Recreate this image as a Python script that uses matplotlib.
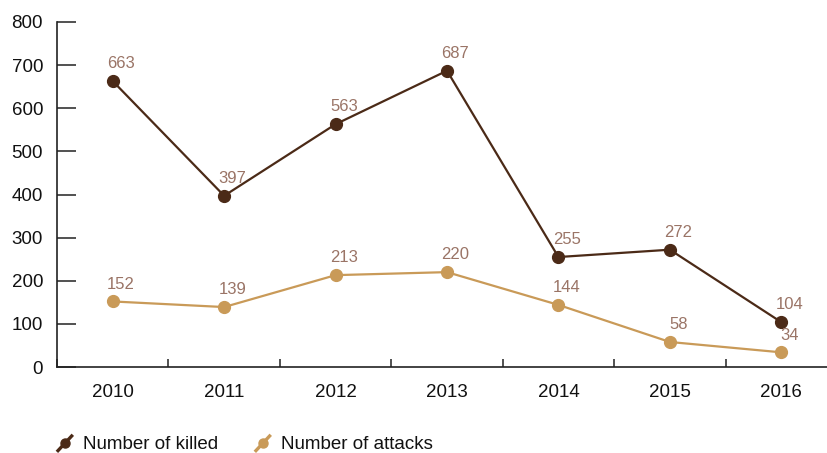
import matplotlib
matplotlib.use("Agg")
import matplotlib.pyplot as plt
from matplotlib.legend_handler import HandlerLine2D
from matplotlib.lines import Line2D
import numpy as np

plt.rcParams['font.family'] = ['Liberation Sans', 'DejaVu Sans']

years = ["2010", "2011", "2012", "2013", "2014", "2015", "2016"]
killed = [663, 397, 563, 687, 255, 272, 104]
attacks = [152, 139, 213, 220, 144, 58, 34]

c_killed = "#4b2a17"
c_attacks = "#c99a58"
c_label = "#9a7466"
c_axis = "#222222"

fig = plt.figure(figsize=(8.28, 4.53), dpi=100)
ax = fig.add_axes([57/828, 1-367/453, (837-57)/828, (367-22)/453])

x = np.arange(len(years))
l1, = ax.plot(x, killed, color=c_killed, lw=1.6, marker='o', ms=8.5, label="Number of killed", clip_on=False, zorder=3)
l2, = ax.plot(x, attacks, color=c_attacks, lw=1.6, marker='o', ms=8.5, label="Number of attacks", clip_on=False, zorder=3)

for xi, v in zip(x, killed):
    ax.annotate(str(v), (xi, v), xytext=(6, 7), textcoords='offset points',
                ha='center', va='bottom', color=c_label, fontsize=12)
for xi, v in zip(x, attacks):
    ax.annotate(str(v), (xi, v), xytext=(6, 7), textcoords='offset points',
                ha='center', va='bottom', color=c_label, fontsize=12)

ax.set_xlim(-0.5, len(years) - 0.5)
ax.set_ylim(0, 800)
ax.set_yticks(range(0, 801, 100))
ax.set_xticks(x)
ax.set_xticklabels(years)
ax.set_xticks(np.arange(-0.5, len(years), 1.0), minor=True)

for s in ['top', 'right']:
    ax.spines[s].set_visible(False)
for s in ['left', 'bottom']:
    ax.spines[s].set_color(c_axis)
    ax.spines[s].set_linewidth(1.2)

ax.tick_params(axis='y', direction='in', length=14, width=1.2, color='#333333',
               labelsize=13.5, pad=10, labelcolor='#111111')
ax.tick_params(axis='x', which='major', length=0, labelsize=13.5, pad=12, labelcolor='#111111')
ax.tick_params(axis='x', which='minor', direction='in', length=6, width=1.2, color='#333333')


class DiagHandler(HandlerLine2D):
    def create_artists(self, legend, orig_handle, xdescent, ydescent, width, height, fontsize, trans):
        x0 = -xdescent
        x1 = -xdescent + width
        y0 = -ydescent - height * 0.25
        y1 = -ydescent + height * 1.05
        line = Line2D([x0, x1], [y0, y1], color=orig_handle.get_color(), lw=2.4,
                      solid_capstyle='butt')
        line.set_transform(trans)
        mx = (x0 + x1) / 2
        my = (y0 + y1) / 2
        dot = Line2D([mx], [my], marker='o', ms=6.5, color=orig_handle.get_color(), lw=0)
        dot.set_transform(trans)
        return [line, dot]


leg = fig.legend(handles=[l1, l2], loc='center left', bbox_to_anchor=(40/828, 1-444/453),
                 ncol=2, frameon=False, fontsize=13.5, handlelength=0.85, handletextpad=0.55,
                 columnspacing=1.95, handler_map={Line2D: DiagHandler()})
for t in leg.get_texts():
    t.set_color('#111111')

fig.savefig("out.png", dpi=100)
